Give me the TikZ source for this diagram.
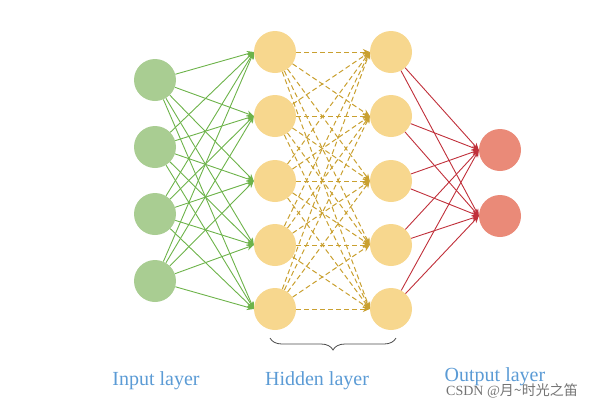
\documentclass[tikz,border=0pt]{standalone}
\usepackage{fontspec}
\setmainfont{Liberation Serif}
\newfontfamily\cjk{Noto Sans CJK SC}
\usetikzlibrary{arrows.meta,decorations.pathreplacing}
\definecolor{gin}{HTML}{A9CD92}
\definecolor{ghid}{HTML}{F7D78E}
\definecolor{gout}{HTML}{EA8A78}
\definecolor{lgreen}{HTML}{6DB34A}
\definecolor{ldash}{HTML}{C9A030}
\definecolor{lred}{HTML}{C0303A}
\definecolor{lblue}{HTML}{5B9BD5}
\begin{document}
\begin{tikzpicture}[x=1pt,y=-1pt,
  neuron/.style={circle,minimum size=42pt,inner sep=0pt},
  inn/.style={neuron,fill=gin},
  hid/.style={neuron,fill=ghid},
  outn/.style={neuron,fill=gout},
  ga/.style={lgreen,line width=0.9pt,-{Stealth[length=7pt,width=6pt]}},
  da/.style={ldash,line width=1pt,dashed,dash pattern=on 5pt off 3pt,-{Stealth[length=7pt,width=6pt]}},
  ra/.style={lred,line width=0.9pt,-{Stealth[length=7pt,width=6pt]}},
  lab/.style={lblue,font=\fontsize{20}{24}\selectfont}]
\useasboundingbox (0,0) rectangle (606,408);
\foreach \i/\y in {1/80,2/147,3/214,4/281} \node[inn] (i\i) at (155,\y) {};
\foreach \i/\y in {1/52,2/116,3/181,4/245,5/309} {
  \node[hid] (a\i) at (275,\y) {};
  \node[hid] (b\i) at (391,\y) {};}
\foreach \i/\y in {1/150,2/216} \node[outn] (o\i) at (500,\y) {};
\foreach \i in {1,...,4} \foreach \j in {1,...,5} \draw[ga] (i\i) -- (a\j.west);
\foreach \i in {1,...,5} \foreach \j in {1,...,5} \draw[da] (a\i) -- (b\j.west);
\foreach \i in {1,...,5} \foreach \j in {1,2} \draw[ra] (b\i) -- (o\j.west);
\coordinate (bl) at (270,338);
\coordinate (br) at (396,338);
\draw[black!70,line width=0.8pt,decorate,decoration={brace,mirror,amplitude=12pt}] (bl) -- (br);
\node[lab] (l1) at (156,381) {Input layer};
\node[lab] (l2) at (317,381) {Hidden layer};
\node[lab] (l3) at (495,377) {Output layer};
\node[black!55,font=\fontsize{14}{16}\selectfont] (wm) at (512,391) {CSDN @{\cjk 月\textasciitilde 时光之笛}};
\end{tikzpicture}
\end{document}
